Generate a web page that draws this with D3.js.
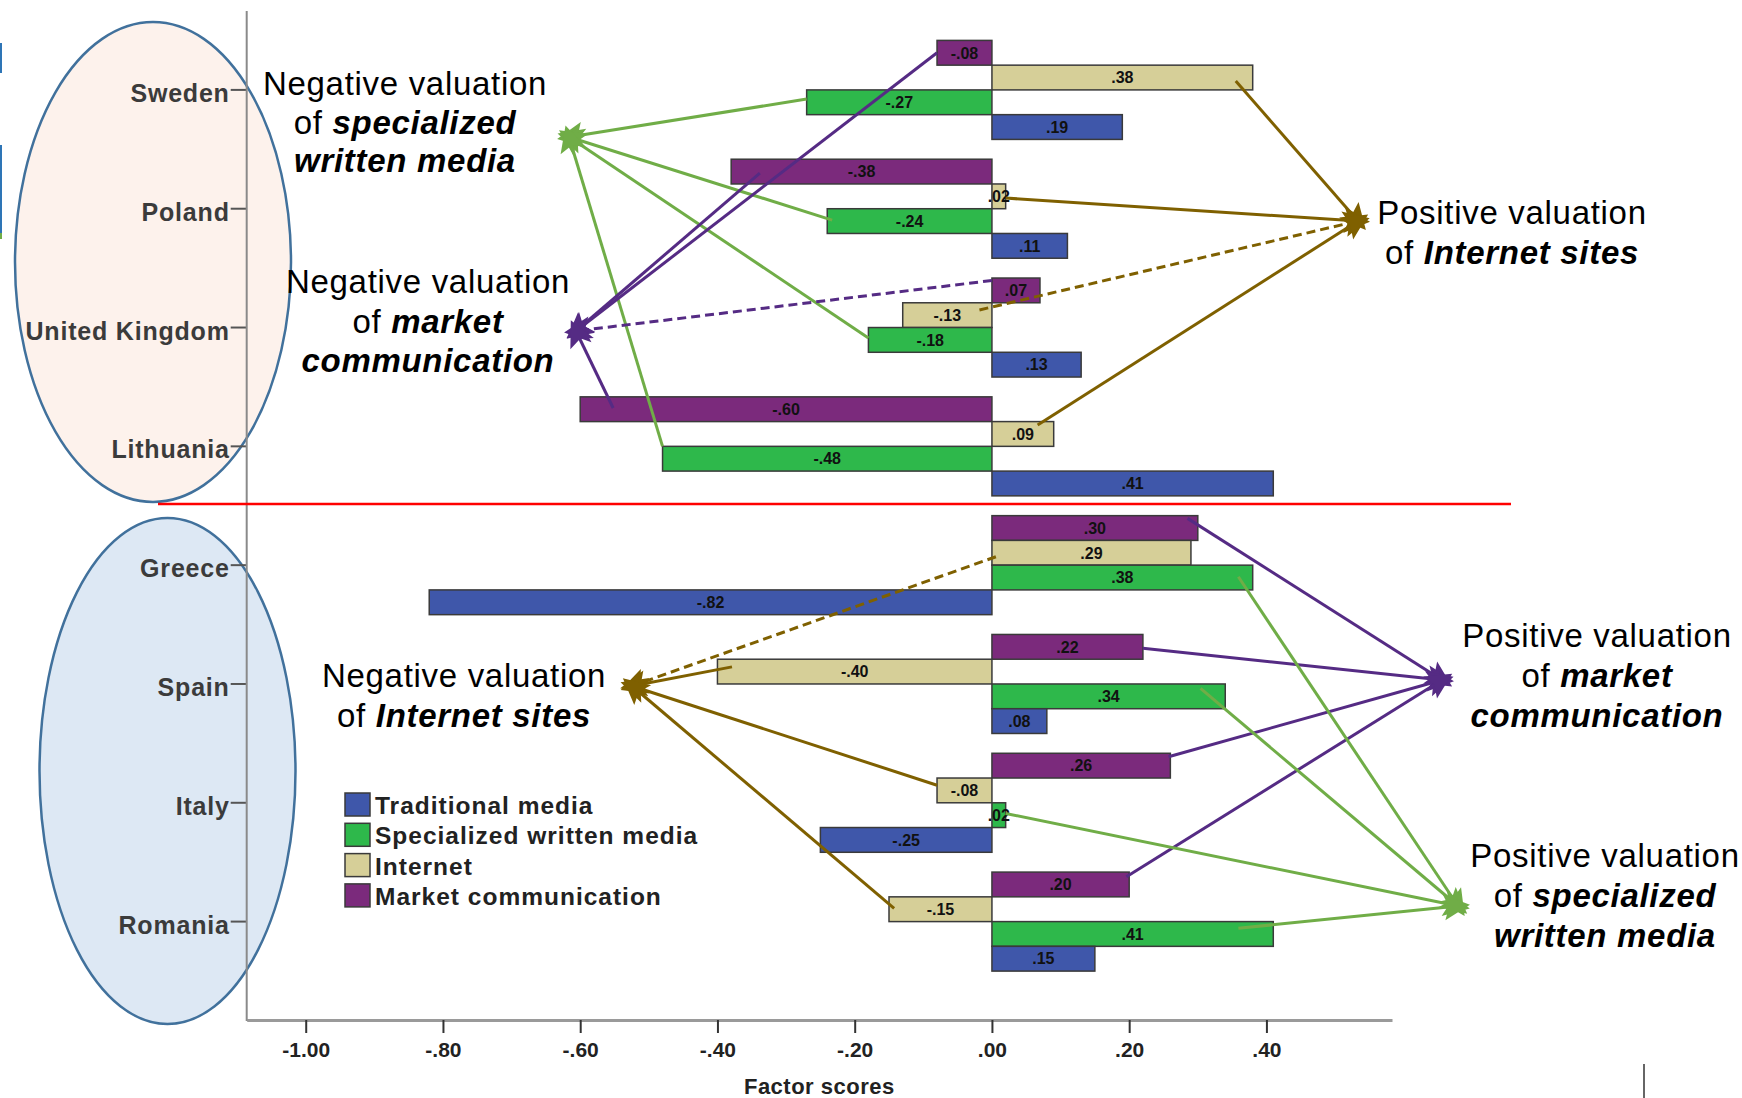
<!DOCTYPE html>
<html>
<head>
<meta charset="utf-8">
<script src="https://cdn.jsdelivr.net/npm/d3@7"></script>
<style>
  html, body { margin: 0; padding: 0; background: #ffffff; }
  svg { display: block; }
</style>
</head>
<body>
<svg id="chart" width="1742" height="1098"></svg>
<script>
// ---------------- DATA ----------------
const countries = ["Sweden", "Poland", "United Kingdom", "Lithuania", "Greece", "Spain", "Italy", "Romania"];
const barOrder = ["Market communication", "Internet", "Specialized written media", "Traditional media"];
const legendOrder = ["Traditional media", "Specialized written media", "Internet", "Market communication"];
const marketCommunication = [-0.08, -0.38, 0.07, -0.60, 0.30, 0.22, 0.26, 0.20];
const internet            = [0.38, 0.02, -0.13, 0.09, 0.29, -0.40, -0.08, -0.15];
const specializedWritten  = [-0.27, -0.24, -0.18, -0.48, 0.38, 0.34, 0.02, 0.41];
const traditionalMedia    = [0.19, 0.11, 0.13, 0.41, -0.82, 0.08, -0.25, 0.15];
const xTicks = [-1.00, -0.80, -0.60, -0.40, -0.20, 0.00, 0.20, 0.40];
const xTitle = "Factor scores";

// connectors: which bar they start from and which annotation they point to
const connectors = [
  {country: "Sweden", series: "Specialized written media", along: 1.0, across: 0.37, to: "negSWM"},
  {country: "Poland", series: "Specialized written media", along: 0.97, across: 0.46, to: "negSWM"},
  {country: "United Kingdom", series: "Specialized written media", along: 1.0, across: 0.42, to: "negSWM"},
  {country: "Lithuania", series: "Specialized written media", along: 1.0, across: 0.0, to: "negSWM"},
  {country: "Sweden", series: "Market communication", along: 1.0, across: 0.5, to: "negMC"},
  {country: "Poland", series: "Market communication", along: 0.89, across: 0.56, to: "negMC"},
  {country: "United Kingdom", series: "Market communication", along: 0.0, across: 0.1, to: "negMC", dashed: true},
  {country: "Lithuania", series: "Market communication", along: 0.92, across: 0.45, to: "negMC"},
  {country: "Sweden", series: "Internet", along: 0.935, across: 0.64, to: "posInt"},
  {country: "Poland", series: "Internet", along: 1.0, across: 0.57, to: "posInt"},
  {country: "United Kingdom", series: "Internet", along: 0.14, across: 0.29, to: "posInt", dashed: true},
  {country: "Lithuania", series: "Internet", along: 0.74, across: 0.14, to: "posInt"},
  {country: "Greece", series: "Internet", along: 0.02, across: 0.66, to: "negInt", dashed: true},
  {country: "Spain", series: "Internet", along: 0.947, across: 0.31, to: "negInt"},
  {country: "Italy", series: "Internet", along: 1.0, across: 0.29, to: "negInt"},
  {country: "Romania", series: "Internet", along: 0.95, across: 0.47, to: "negInt"},
  {country: "Greece", series: "Market communication", along: 0.95, across: 0.11, to: "posMC"},
  {country: "Spain", series: "Market communication", along: 1.0, across: 0.56, to: "posMC"},
  {country: "Italy", series: "Market communication", along: 0.99, across: 0.14, to: "posMC"},
  {country: "Romania", series: "Market communication", along: 0.98, across: 0.19, to: "posMC"},
  {country: "Greece", series: "Specialized written media", along: 0.945, across: 0.47, to: "posSWM"},
  {country: "Spain", series: "Specialized written media", along: 0.894, across: 0.18, to: "posSWM"},
  {country: "Italy", series: "Specialized written media", along: 1.0, across: 0.43, to: "posSWM"},
  {country: "Romania", series: "Specialized written media", along: 0.876, across: 0.27, to: "posSWM"}
];

// annotation texts
const annotations = [
  {id: "negSWM", lines: [[["Negative valuation", false]], [["of ", false], ["specialized", true]], [["written media", true]]]},
  {id: "negMC",  lines: [[["Negative valuation", false]], [["of ", false], ["market", true]], [["communication", true]]]},
  {id: "posInt", lines: [[["Positive valuation", false]], [["of ", false], ["Internet sites", true]]]},
  {id: "negInt", lines: [[["Negative valuation", false]], [["of ", false], ["Internet sites", true]]]},
  {id: "posMC",  lines: [[["Positive valuation", false]], [["of ", false], ["market", true]], [["communication", true]]]},
  {id: "posSWM", lines: [[["Positive valuation", false]], [["of ", false], ["specialized", true]], [["written media", true]]]}
];

// ---------------- LAYOUT / STYLE ----------------
const valuesBySeries = {
  "Market communication": marketCommunication,
  "Internet": internet,
  "Specialized written media": specializedWritten,
  "Traditional media": traditionalMedia
};
const colors = {
  "Traditional media": "#3f57aa",
  "Specialized written media": "#2eb84b",
  "Internet": "#d6cf98",
  "Market communication": "#7b2a7c"
};
const lineColors = {negSWM: "#70ad47", posSWM: "#70ad47", negMC: "#552b84", posMC: "#552b84", negInt: "#7f6000", posInt: "#7f6000"};
const targets = {
  negSWM: [569, 137], negMC: [576, 331], posInt: [1358, 221],
  negInt: [632, 686], posMC: [1442, 680], posSWM: [1458, 906]
};
const textPos = {
  negSWM: {x: 405, y: 95, dy: 38.5},
  negMC:  {x: 428, y: 293, dy: 39.5},
  posInt: {x: 1512, y: 224, dy: 39.5},
  negInt: {x: 464, y: 687, dy: 40},
  posMC:  {x: 1597, y: 647, dy: 40},
  posSWM: {x: 1605, y: 867, dy: 40}
};

const FONT = "'Liberation Sans', Arial, Helvetica, sans-serif";
const svg = d3.select("#chart");

const x = d3.scaleLinear().domain([-1.086, 0.583]).range([246.7, 1392]);
const y0 = d3.scaleBand().domain(countries).range([30.5, 981]);
const y1 = d3.scaleBand().domain(barOrder).range([0, y0.bandwidth()]).paddingOuter(0.4).paddingInner(0);
const fmt = v => d3.format(".2f")(v).replace(/\u2212/g, "-").replace(/^(-?)0\./, "$1.");

// stray marks at the edges of the source image
svg.append("rect").attr("x", 0).attr("y", 43).attr("width", 2).attr("height", 30).attr("fill", "#2e75b6");
svg.append("rect").attr("x", 0).attr("y", 145).attr("width", 2).attr("height", 88).attr("fill", "#2e75b6");
svg.append("rect").attr("x", 0).attr("y", 233).attr("width", 2).attr("height", 6).attr("fill", "#70ad47");
svg.append("line").attr("x1", 1644).attr("x2", 1644).attr("y1", 1064).attr("y2", 1098)
  .attr("stroke", "#333").attr("stroke-width", 1.5);

// ellipses
svg.append("ellipse").attr("cx", 153).attr("cy", 262).attr("rx", 138).attr("ry", 240)
  .attr("fill", "#fdf2ec").attr("stroke", "#41719c").attr("stroke-width", 2.5);
svg.append("ellipse").attr("cx", 167.5).attr("cy", 771).attr("rx", 128).attr("ry", 253)
  .attr("fill", "#dde8f4").attr("stroke", "#41719c").attr("stroke-width", 2.5);

// axes
const gx = svg.append("g").attr("transform", "translate(0,1020)")
  .call(d3.axisBottom(x).tickValues(xTicks).tickFormat(fmt).tickSize(13).tickSizeOuter(0));
gx.select(".domain").attr("stroke", "#9a9a9a").attr("stroke-width", 3);
gx.selectAll(".tick line").attr("stroke", "#333").attr("stroke-width", 2);
gx.selectAll(".tick text").attr("font-family", FONT).attr("font-weight", "bold")
  .attr("font-size", 21).attr("fill", "#222").attr("dy", "1.0em");

const gy = svg.append("g").attr("transform", `translate(${x.range()[0]},0)`)
  .call(d3.axisLeft(y0).tickSize(16).tickSizeOuter(0));
gy.select(".domain").remove();
gy.selectAll(".tick line").attr("stroke", "#555").attr("stroke-width", 2);
gy.selectAll(".tick text").attr("font-family", FONT).attr("font-weight", "bold")
  .attr("font-size", 25).attr("letter-spacing", 0.8).attr("fill", "#3b3b3b")
  .attr("x", -17).attr("dy", "0.48em");
svg.append("line").attr("x1", x.range()[0]).attr("x2", x.range()[0]).attr("y1", 11).attr("y2", 1021)
  .attr("stroke", "#8a8a8a").attr("stroke-width", 2);

svg.append("text").attr("x", (x.range()[0] + x.range()[1]) / 2).attr("y", 1094)
  .attr("text-anchor", "middle").attr("font-family", FONT).attr("font-weight", "bold")
  .attr("font-size", 22).attr("letter-spacing", 0.5).attr("fill", "#222").text(xTitle);

// red divider
svg.append("line").attr("x1", 158).attr("x2", 1511).attr("y1", 504).attr("y2", 504)
  .attr("stroke", "#ff0000").attr("stroke-width", 2.5);

// bars
const rows = [];
countries.forEach((c, i) => barOrder.forEach(s => rows.push({country: c, series: s, value: valuesBySeries[s][i]})));
const bw = y1.bandwidth();
const gBars = svg.append("g");
gBars.selectAll("rect").data(rows).join("rect")
  .attr("x", d => x(Math.min(0, d.value)))
  .attr("y", d => y0(d.country) + y1(d.series))
  .attr("width", d => Math.abs(x(d.value) - x(0)))
  .attr("height", bw)
  .attr("fill", d => colors[d.series])
  .attr("stroke", "#3a3a3a").attr("stroke-width", 1.5);
gBars.selectAll("text").data(rows).join("text")
  .attr("x", d => (x(d.value) + x(0)) / 2)
  .attr("y", d => y0(d.country) + y1(d.series) + bw / 2)
  .attr("dy", "0.36em").attr("text-anchor", "middle")
  .attr("font-family", FONT).attr("font-weight", "bold").attr("font-size", 16).attr("fill", "#111")
  .text(d => fmt(d.value));

// arrow markers
const defs = svg.append("defs");
Object.entries({green: "#70ad47", purple: "#552b84", brown: "#7f6000"}).forEach(([k, c]) => {
  defs.append("marker").attr("id", "arr-" + k)
    .attr("viewBox", "-32 -18 36 36").attr("refX", -12).attr("refY", 0)
    .attr("markerWidth", 36).attr("markerHeight", 36).attr("markerUnits", "userSpaceOnUse")
    .attr("orient", "auto")
    .append("path").attr("d", "M0,0 L-26,-13 L-21,0 L-26,13 Z").attr("fill", c);
});
const markerOf = {negSWM: "green", posSWM: "green", negMC: "purple", posMC: "purple", negInt: "brown", posInt: "brown"};

// connectors
const gConn = svg.append("g");
gConn.selectAll("line").data(connectors).join("line")
  .attr("x1", d => { const v = valuesBySeries[d.series][countries.indexOf(d.country)]; return x(0) + d.along * (x(v) - x(0)); })
  .attr("y1", d => y0(d.country) + y1(d.series) + d.across * bw)
  .attr("x2", d => targets[d.to][0])
  .attr("y2", d => targets[d.to][1])
  .attr("stroke", d => lineColors[d.to])
  .attr("stroke-width", 3)
  .attr("stroke-dasharray", d => d.dashed ? "9,5" : null)
  .attr("marker-end", d => `url(#arr-${markerOf[d.to]})`);

// annotations
annotations.forEach(a => {
  const p = textPos[a.id];
  a.lines.forEach((segs, li) => {
    const t = svg.append("text").attr("x", p.x).attr("y", p.y + li * p.dy)
      .attr("text-anchor", "middle").attr("font-family", FONT).attr("font-size", 33)
      .attr("letter-spacing", 0.7).attr("fill", "#000");
    segs.forEach(([txt, emph]) => {
      t.append("tspan").attr("font-weight", emph ? "bold" : "normal")
        .attr("font-style", emph ? "italic" : "normal").text(txt);
    });
  });
});

// legend
const lg = svg.append("g").attr("transform", "translate(345,793)");
legendOrder.forEach((s, i) => {
  lg.append("rect").attr("x", 0).attr("y", i * 30.3).attr("width", 25).attr("height", 23)
    .attr("fill", colors[s]).attr("stroke", "#3a3a3a").attr("stroke-width", 1.5);
  lg.append("text").attr("x", 30).attr("y", i * 30.3 + 21).attr("font-family", FONT)
    .attr("font-weight", "bold").attr("font-size", 24.5).attr("letter-spacing", 1.0).attr("fill", "#222").text(s);
});
</script>
</body>
</html>
